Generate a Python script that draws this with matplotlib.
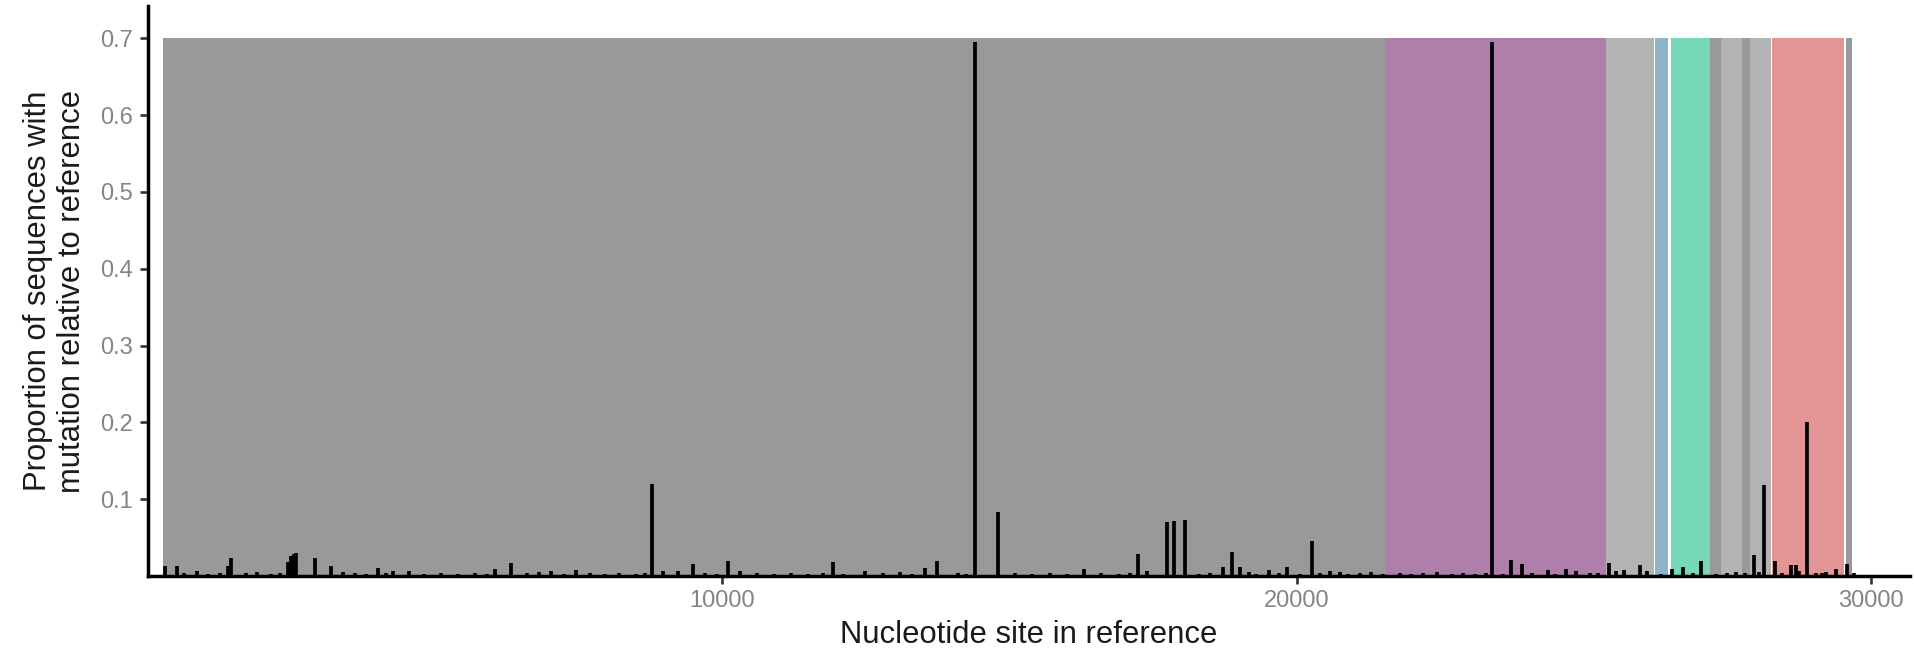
import matplotlib
matplotlib.use("Agg")
import matplotlib.pyplot as plt

plt.rcParams['font.family'] = ['Liberation Sans', 'DejaVu Sans']

# Genome annotation (SARS-CoV-2 reference coordinates)
gene_names = ["ORF1ab", "S", "ORF3a", "E", "M", "ORF6", "ORF7a", "ORF7b", "ORF8", "N", "ORF10"]
gene_start = [266, 21563, 25393, 26245, 26523, 27202, 27394, 27756, 27894, 28274, 29558]
gene_end = [21555, 25384, 26220, 26472, 27191, 27387, 27759, 27887, 28259, 29533, 29674]
gene_color = ["#999999", "#AE7FAB", "#B3B3B3", "#8DB4CA", "#76D8B9", "#999999",
              "#B3B3B3", "#999999", "#B3B3B3", "#E39494", "#999999"]
gene_top = 0.7

# Proportion of sequences carrying a mutation at each site
mut_site = [300, 503, 855, 1389, 1448, 2433, 2487, 2535, 2581, 2900, 3180, 3387,
            4012, 4266, 4547, 6050, 6312, 7011, 7450, 8782, 8963, 9229, 9481,
            10097, 10315, 11922, 12489, 13536, 13730, 14408, 14805, 16290,
            17246, 17401, 17747, 17858, 18060, 18720, 18867, 19008, 19163,
            19511, 19838, 20265, 20575, 20754, 22449, 23403, 23735, 23931,
            24369, 24694, 24870, 25434, 25560, 25698, 25981, 26106, 26533,
            26733, 27048, 27655, 27969, 28144, 28321, 28615, 28690, 28881,
            29050, 29220, 29400, 29575]
mut_prop = [0.013, 0.013, 0.0066, 0.013, 0.024, 0.018, 0.026, 0.029, 0.030, 0.023,
            0.013, 0.005, 0.010, 0.006, 0.007, 0.0096, 0.017, 0.006, 0.008, 0.120,
            0.006, 0.007, 0.015, 0.020, 0.006, 0.0176, 0.006, 0.010, 0.019, 0.695,
            0.083, 0.009, 0.0286, 0.0066, 0.0705, 0.072, 0.0727, 0.012, 0.0317,
            0.012, 0.005, 0.008, 0.012, 0.045, 0.006, 0.005, 0.0057, 0.695, 0.0205,
            0.015, 0.0074, 0.0087, 0.0066, 0.0175, 0.0066, 0.0074, 0.0144, 0.0066,
            0.0087, 0.0122, 0.0197, 0.005, 0.0275, 0.118, 0.0197, 0.014, 0.0144,
            0.200, 0.0044, 0.005, 0.0087, 0.016]

# Low-frequency sites along the genome
low_site = [620, 1050, 1250, 1700, 1900, 2150, 2300, 3600, 3800, 4150, 4800, 5100,
            5400, 5700, 5900, 6600, 6800, 7250, 7700, 7950, 8200, 8500, 8650, 9700,
            9900, 10600, 10900, 11200, 11500, 11750, 12100, 12800, 13100, 13300,
            14100, 14250, 15100, 15400, 15700, 16000, 16600, 16900, 17100, 18300,
            18500, 19300, 19700, 20050, 20400, 20900, 21100, 21300, 21500, 21800,
            22000, 22200, 22700, 22900, 23100, 23300, 23600, 24100, 24500, 25100,
            25250, 26350, 26900, 27300, 27500, 27800, 28050, 28450, 28750, 29150,
            29700]
low_prop = [0.004, 0.003, 0.004, 0.004, 0.005, 0.003, 0.004, 0.004, 0.003, 0.004,
            0.003, 0.004, 0.003, 0.004, 0.003, 0.004, 0.005, 0.003, 0.004, 0.003,
            0.004, 0.003, 0.004, 0.004, 0.003, 0.004, 0.003, 0.004, 0.003, 0.004,
            0.003, 0.004, 0.005, 0.003, 0.004, 0.003, 0.004, 0.003, 0.004, 0.003,
            0.004, 0.003, 0.004, 0.003, 0.004, 0.003, 0.004, 0.003, 0.004, 0.003,
            0.004, 0.005, 0.003, 0.004, 0.003, 0.004, 0.003, 0.004, 0.003, 0.004,
            0.003, 0.004, 0.003, 0.004, 0.004, 0.003, 0.004, 0.003, 0.004, 0.004,
            0.005, 0.004, 0.006, 0.004, 0.004]

x_ticks = [10000, 20000, 30000]
y_ticks = [0.1, 0.2, 0.3, 0.4, 0.5, 0.6, 0.7]

W, H = 1915, 650
fig = plt.figure(figsize=(W / 100, H / 100), dpi=100)
ax = fig.add_axes([148 / W, (H - 576) / H, (1910 - 148) / W, (576 - 6) / H])

# Gene blocks behind the mutation bars
ax.bar(gene_start, gene_top, width=[e - s for s, e in zip(gene_start, gene_end)],
       align='edge', color=gene_color, linewidth=0, zorder=1)

ax.vlines(low_site, 0, low_prop, colors='black', linewidth=2.6, zorder=3)
ax.vlines(mut_site, 0, mut_prop, colors='black', linewidth=2.7, zorder=3)

ax.set_xlim(0, 30680)
ax.set_ylim(0, 0.742)

for side in ("top", "right"):
    ax.spines[side].set_visible(False)
for side in ("left", "bottom"):
    ax.spines[side].set_linewidth(2.5)
    ax.spines[side].set_color("black")
    ax.spines[side].set_zorder(4)

ax.set_xticks(x_ticks)
ax.set_xticklabels([str(v) for v in x_ticks])
ax.set_yticks(y_ticks)
ax.set_yticklabels([f"{v:.1f}" for v in y_ticks])
ax.tick_params(axis='both', direction='out', length=6, width=1.9, color='#333333',
               labelsize=17, labelcolor='#858585')
ax.tick_params(axis='y', pad=5)
ax.tick_params(axis='x', pad=4)

fig.text(1029 / W, (H - 643) / H, "Nucleotide site in reference", ha='center',
         va='baseline', fontsize=22.3, color='#1a1a1a')
fig.text(55 / W, (H - 291) / H, "Proportion of sequences with\nmutation relative to reference",
         rotation=90, ha='center', va='center', multialignment='center',
         fontsize=22.3, linespacing=1.15, color='#1a1a1a')

fig.savefig("out.png", dpi=100)
